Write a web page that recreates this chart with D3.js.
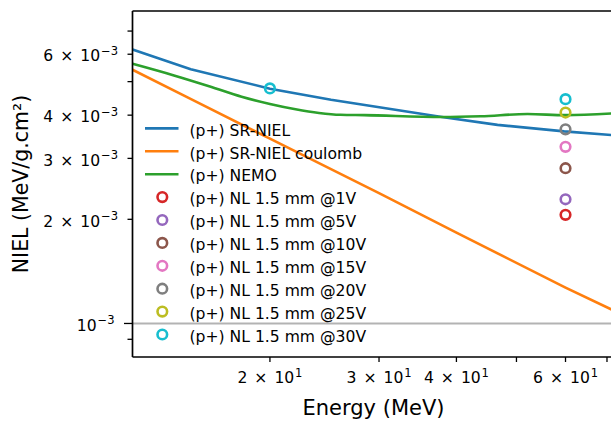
<!DOCTYPE html>
<html>
<head>
<meta charset="utf-8">
<script src="https://cdn.jsdelivr.net/npm/d3@7"></script>
<style>
  body { margin: 0; background: #fff; }
  svg { display: block; font-family: 'DejaVu Sans', sans-serif; }
</style>
</head>
<body>
<svg id="chart"></svg>
<script>
// values
const srEnergy = [12, 14.9, 20, 25.1, 37.9, 46.6, 59.7, 72];
const srNiel = [6.19e-3, 5.43e-3, 4.77e-3, 4.43e-3, 3.95e-3, 3.75e-3, 3.59e-3, 3.50e-3];

const coulEnergy = [12, 15, 20, 30, 40, 60, 72];
const coulNiel = [5.41e-3, 4.43e-3, 3.42e-3, 2.38e-3, 1.83e-3, 1.27e-3, 1.087e-3];

const nemoEnergy = [12, 14, 16, 18, 20, 22, 24, 26, 28.4, 37.9, 43.8, 52.1, 60, 72];
const nemoNiel = [5.63e-3, 5.21e-3, 4.84e-3, 4.52e-3, 4.31e-3, 4.16e-3, 4.06e-3, 4.01e-3,
  4.0e-3, 3.95e-3, 3.97e-3, 4.03e-3, 4.0e-3, 4.05e-3];

const nlLabels = ['1V', '5V', '10V', '15V', '20V', '25V', '30V'];
const nlColors = ['#d62728', '#9467bd', '#8c564b', '#e377c2', '#7f7f7f', '#bcbd22', '#17becf'];
const nlEnergy = [[60], [60], [60], [60], [60], [60], [20, 60]];
const nlNiel = [[2.06e-3], [2.285e-3], [2.81e-3], [3.24e-3], [3.64e-3], [4.07e-3], [4.78e-3, 4.45e-3]];

const xTicks = [20, 30, 40, 50, 60, 70];
const xTickLabels = {20: '2', 30: '3', 40: '4', 60: '6'};
const yTicks = [9e-4, 1e-3, 2e-3, 3e-3, 4e-3, 5e-3, 6e-3, 7e-3];
const yTickLabels = {2e-3: '2', 3e-3: '3', 4e-3: '4', 6e-3: '6'};

const width = 611;
const height = 422;
const plot = {left: 132.5, top: 11, bottom: 357};
const fs = 15.6;

const x = d3.scaleLog().domain([12, 72]);
x.range([plot.left, plot.left + 619.5 * Math.log10(72 / 12)]);
const y = d3.scaleLog().domain([8e-4, 8e-3]).range([plot.bottom, plot.top]);
const plotRight = x.range()[1];

const svg = d3.select('#chart').attr('width', width).attr('height', height);
svg.append('rect').attr('width', width).attr('height', height).attr('fill', '#fff');

svg.append('defs').append('clipPath').attr('id', 'clip')
    .append('rect')
    .attr('x', plot.left).attr('y', plot.top)
    .attr('width', plotRight - plot.left).attr('height', plot.bottom - plot.top);

const body = svg.append('g').attr('clip-path', 'url(#clip)');

// horizontal reference line at 1e-3
body.append('line')
    .attr('x1', plot.left).attr('x2', plotRight)
    .attr('y1', y(1e-3)).attr('y2', y(1e-3))
    .attr('stroke', '#b3b3b3').attr('stroke-width', 2);

const line = d3.line().x((d) => x(d[0])).y((d) => y(d[1]));
const series = [
  {e: srEnergy, v: srNiel, color: '#1f77b4', curve: d3.curveLinear},
  {e: coulEnergy, v: coulNiel, color: '#ff7f0e', curve: d3.curveLinear},
  {e: nemoEnergy, v: nemoNiel, color: '#2ca02c', curve: d3.curveMonotoneX},
];
series.forEach((s) => {
  body.append('path')
      .attr('d', line.curve(s.curve)(s.e.map((e, i) => [e, s.v[i]])))
      .attr('fill', 'none')
      .attr('stroke', s.color)
      .attr('stroke-width', 2.6)
      .attr('stroke-linejoin', 'round');
});

// NL measured points, open circles
nlLabels.forEach((lab, k) => {
  nlEnergy[k].forEach((e, i) => {
    body.append('circle')
        .attr('cx', x(e)).attr('cy', y(nlNiel[k][i])).attr('r', 4.8)
        .attr('fill', 'none')
        .attr('stroke', nlColors[k])
        .attr('stroke-width', 2.6);
  });
});

// axes
const axisG = svg.append('g').attr('stroke', '#000');
axisG.append('line')
    .attr('x1', plot.left).attr('x2', plot.left)
    .attr('y1', plot.top).attr('y2', plot.bottom)
    .attr('stroke-width', 1.7);
axisG.append('line')
    .attr('x1', plot.left).attr('x2', plotRight)
    .attr('y1', plot.bottom).attr('y2', plot.bottom)
    .attr('stroke-width', 1.7);
axisG.append('line')
    .attr('x1', plot.left).attr('x2', plotRight)
    .attr('y1', plot.top).attr('y2', plot.top)
    .attr('stroke-width', 1.7);

// mathtext-like "m × 10^e"
function sciLabel(sel, mant, exp) {
  if (mant) {
    sel.append('tspan').text(mant);
    sel.append('tspan').attr('dx', 7).text('\u00d7');
    sel.append('tspan').attr('dx', 7).text('10');
  } else {
    sel.append('tspan').text('10');
  }
  sel.append('tspan').attr('dx', 0.8).attr('dy', -6.7)
      .attr('font-size', fs * 0.74).text(exp);
}

xTicks.forEach((t) => {
  const px = x(t);
  svg.append('line')
      .attr('x1', px).attr('x2', px)
      .attr('y1', plot.bottom).attr('y2', plot.bottom + 5)
      .attr('stroke', '#000').attr('stroke-width', 1.3);
  if (xTickLabels[t]) {
    const txt = svg.append('text')
        .attr('x', px).attr('y', 383.3)
        .attr('text-anchor', 'middle')
        .attr('font-size', fs);
    sciLabel(txt, xTickLabels[t], '1');
  }
});

yTicks.forEach((t) => {
  const py = y(t);
  const major = t === 1e-3;
  const len = major ? 8.5 : 5;
  svg.append('line')
      .attr('x1', plot.left - len).attr('x2', plot.left)
      .attr('y1', py).attr('y2', py)
      .attr('stroke', '#000').attr('stroke-width', 1.3);
  if (major || yTickLabels[t]) {
    const txt = svg.append('text')
        .attr('x', plot.left - len - 9.5).attr('y', py + 7.2)
        .attr('text-anchor', 'end')
        .attr('font-size', fs);
    sciLabel(txt, major ? null : yTickLabels[t], '\u22123');
  }
});

// axis titles
svg.append('text')
    .attr('x', (plot.left + plotRight) / 2).attr('y', 415)
    .attr('text-anchor', 'middle')
    .attr('font-size', 21)
    .text('Energy (MeV)');

svg.append('text')
    .attr('transform', `translate(28,${(plot.top + plot.bottom) / 2}) rotate(-90)`)
    .attr('text-anchor', 'middle')
    .attr('font-size', 20.5)
    .text('NIEL (MeV/g.cm\u00b2)');

// legend, no frame
const legendItems = [
  {label: '(p+) SR-NIEL', color: '#1f77b4', type: 'line'},
  {label: '(p+) SR-NIEL coulomb', color: '#ff7f0e', type: 'line'},
  {label: '(p+) NEMO', color: '#2ca02c', type: 'line'},
].concat(nlLabels.map((l, k) => ({label: '(p+) NL 1.5 mm @' + l, color: nlColors[k], type: 'dot'})));

const legend = svg.append('g');
legendItems.forEach((d, i) => {
  const ly = 128.4 + i * 22.9;
  if (d.type === 'line') {
    legend.append('line')
        .attr('x1', 145).attr('x2', 178.5)
        .attr('y1', ly).attr('y2', ly)
        .attr('stroke', d.color).attr('stroke-width', 2.6);
  } else {
    legend.append('circle')
        .attr('cx', 162.3).attr('cy', ly).attr('r', 4.8)
        .attr('fill', 'none')
        .attr('stroke', d.color).attr('stroke-width', 2.6);
  }
  legend.append('text')
      .attr('x', 189.5).attr('y', ly + 7.2)
      .attr('font-size', fs)
      .text(d.label);
});
</script>
</body>
</html>
